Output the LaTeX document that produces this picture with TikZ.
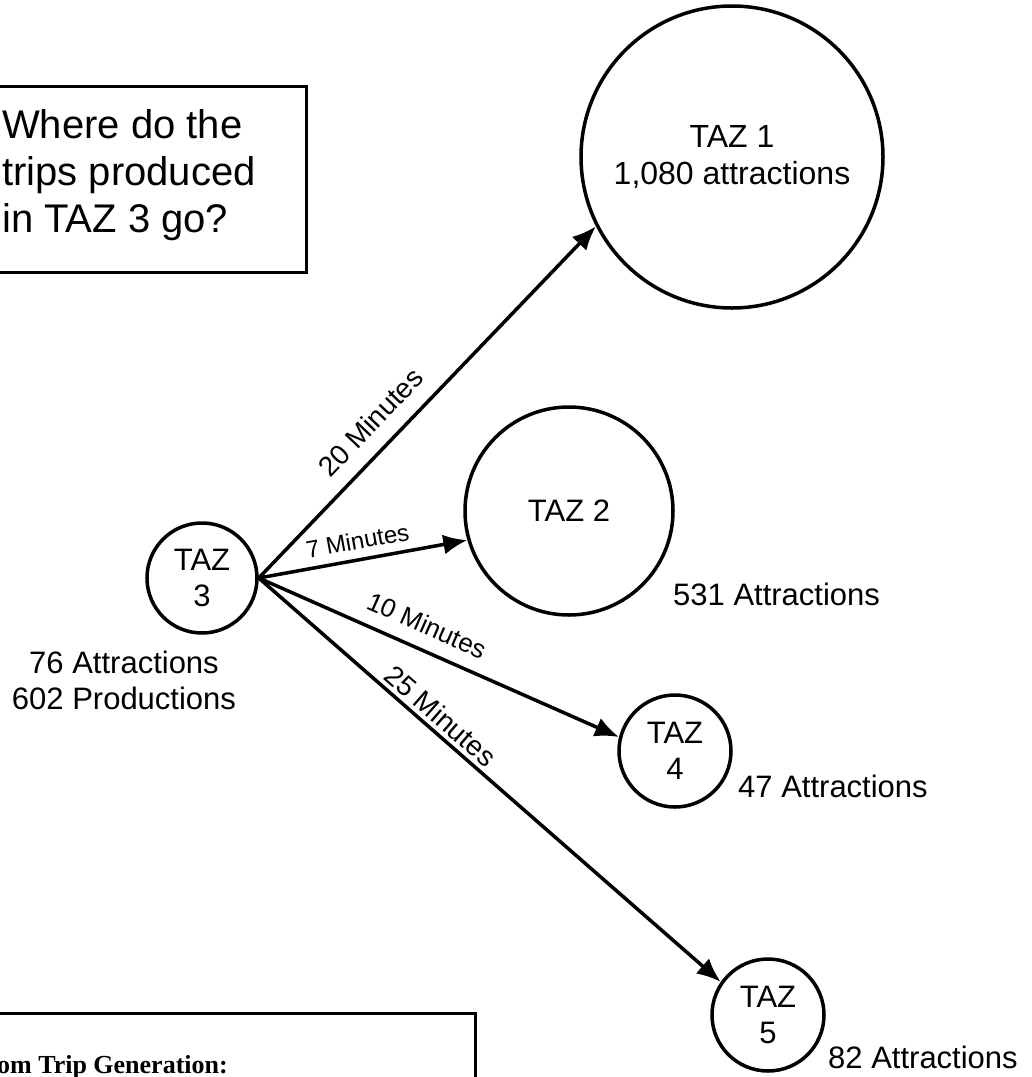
\documentclass[tikz,border=0pt]{standalone}
\usepackage{fontspec}
\setmainfont{Liberation Sans}
\newfontfamily\serifbold{Liberation Serif}
\usetikzlibrary{arrows.meta}
\begin{document}
\begin{tikzpicture}[x=1pt,y=-1pt,
  zone/.style={circle, draw, line width=3.5pt, inner sep=0pt, align=center, font=\fontsize{31}{36}\selectfont},
  lbl/.style={font=\fontsize{31}{36}\selectfont, inner sep=0pt},
  flow/.style={line width=3.5pt, -{Latex[length=24pt,width=20pt]}},
  mins/.style={sloped, above}]
\useasboundingbox (0,0) rectangle (1032,1077);
% zones
\node[zone, minimum size=302pt, font=\fontsize{32}{37}\selectfont] (t1) at (732,157) {TAZ 1\\1,080 attractions};
\node[zone, minimum size=208pt] (t2) at (569,511) {TAZ 2};
\node[zone, minimum size=110pt] (t3) at (202,578) {TAZ\\3};
\node[zone, minimum size=112pt] (t4) at (675,751) {TAZ\\4};
\node[zone, minimum size=112pt] (t5) at (768,1015) {TAZ\\5};
% attraction labels
\node[lbl, anchor=north, align=center] (a3) at (124,651) {76 Attractions\\602 Productions};
\node[lbl, anchor=base west] (a2) at (673,605) {531 Attractions};
\node[lbl, anchor=base west] (a4) at (738,797) {47 Attractions};
\node[lbl, anchor=base west] (a5) at (828,1068) {82 Attractions};
% question box
\node[draw, line width=3pt, anchor=north east, minimum width=340pt, minimum height=186pt] (qbox) at (308,85) {};
\node[anchor=north west, align=left, inner sep=0pt, font=\fontsize{40}{47}\selectfont] (q) at (2,109) {Where do the\\trips produced\\in TAZ 3 go?};
% bottom box
\node[draw, line width=3pt, anchor=north east, minimum width=520pt, minimum height=200pt] (gbox) at (477,1012) {};
\node[anchor=base west, inner sep=0pt, font=\serifbold\bfseries\fontsize{26}{30}\selectfont] (g) at (-3,1073) {om Trip Generation:};
% flows
\draw[flow] (t3.east) -- node[mins, pos=0.39, inner sep=15pt, font=\fontsize{28}{32}\selectfont] (m20) {20 Minutes} (t1.207);
\draw[flow] (t3.east) -- node[mins, pos=0.49, inner sep=8.5pt, font=\fontsize{24}{28}\selectfont] (m7) {7 Minutes} (t2.196.5);
\draw[flow] (t3.east) -- node[mins, pos=0.44, inner sep=13.5pt, font=\fontsize{26}{30}\selectfont] (m10) {10 Minutes} (t4.166);
\draw[flow] (t3.east) -- node[mins, pos=0.371, inner sep=4pt, font=\fontsize{28}{32}\selectfont] (m25) {25 Minutes} (t5.145);
\end{tikzpicture}
\end{document}
